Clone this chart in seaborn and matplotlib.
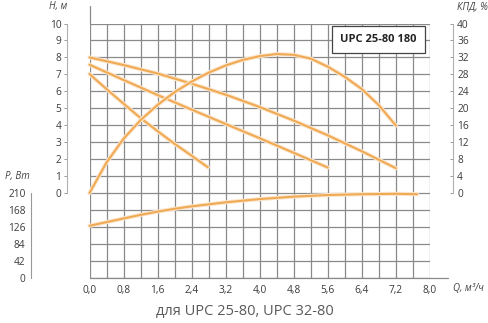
import numpy as np
import pandas as pd
import matplotlib
matplotlib.use("Agg")
import matplotlib.pyplot as plt
import matplotlib.patheffects as pe
import seaborn as sns

# ---------------- data ----------------
q_h1 = [0.0, 0.8, 1.6, 2.4, 3.2, 4.0, 4.8, 5.6, 6.4, 7.2]
h1 = [8.0, 7.55, 7.05, 6.45, 5.8, 5.07, 4.27, 3.4, 2.46, 1.46]

q_h2 = [0.0, 0.8, 1.6, 2.4, 3.2, 4.0, 4.8, 5.6]
h2 = [7.57, 6.67, 5.78, 4.92, 4.07, 3.23, 2.37, 1.5]

q_h3 = [0.0, 0.4, 0.8, 1.2, 1.6, 2.0, 2.4, 2.78]
h3 = [7.02, 6.13, 5.27, 4.42, 3.65, 2.9, 2.2, 1.52]

q_eff = [0.0, 0.4, 0.8, 1.2, 1.6, 2.0, 2.4, 2.8, 3.2, 3.6, 4.0, 4.4, 4.8,
         5.2, 5.6, 6.0, 6.4, 6.8, 7.2]
eff = [0.0, 7.2, 12.8, 17.2, 20.8, 23.8, 26.3, 28.4, 30.1, 31.4, 32.3, 32.8,
       32.6, 31.7, 29.8, 27.4, 24.5, 20.7, 15.9]

q_p = [0.0, 0.4, 0.8, 1.2, 1.6, 2.0, 2.4, 2.8, 3.2, 3.6, 4.0, 4.8, 5.6, 6.4,
       7.2, 7.7]
power = [129, 138, 147, 156, 164, 171, 177, 182, 187, 191, 195, 201, 205, 207,
         208, 207]

h_ticks = [0, 1, 2, 3, 4, 5, 6, 7, 8, 9, 10]
p_ticks = [0, 42, 84, 126, 168, 210]
eff_ticks = [0, 4, 8, 12, 16, 20, 24, 28, 32, 36, 40]
q_ticks = [0.0, 0.8, 1.6, 2.4, 3.2, 4.0, 4.8, 5.6, 6.4, 7.2, 8.0]
q_labels = ["0,0", "0,8", "1,6", "2,4", "3,2", "4,0", "4,8", "5,6", "6,4",
            "7,2", "8,0"]

title_text = "UPC 25-80 180"
caption = "для UPC 25-80, UPC 32-80"

# ---------------- style ----------------
sns.set_style("white")
plt.rcParams["font.family"] = ["Open Sans", "DejaVu Sans"]

W, H = 488, 323
fig = plt.figure(figsize=(W / 100, H / 100), dpi=100)
fig.patch.set_facecolor("white")


def rect(x0, y0, x1, y1):
    return [x0 / W, 1 - y1 / H, (x1 - x0) / W, (y1 - y0) / H]


GX0, GX1, GY0, GY1, GY2 = 89.5, 430, 23.5, 193, 278
ax_top = fig.add_axes(rect(GX0, GY0, GX1, GY1))
ax_bot = fig.add_axes(rect(GX0, GY1, GX1, GY2))
ax_eff = ax_top.twinx()

grid_col = "#8a8a8a"
curve_col = "#F0AA55"
glow = [pe.Stroke(linewidth=3.0, foreground="#FBE6CC"), pe.Normal()]
tick_col = "#3a3a3a"
fs = 7.3

minor_q = np.arange(0, 8.001, 0.4)

for ax in (ax_top, ax_bot):
    ax.set_facecolor("none")
    ax.set_xlim(0, 8)
    ax.set_xticks(minor_q)
    ax.grid(True, color=grid_col, linewidth=0.9)
    for s in ("top", "right", "bottom"):
        ax.spines[s].set_visible(False)
    ax.spines["left"].set_color("#b0b0b0")
    ax.spines["left"].set_linewidth(0.8)
    ax.tick_params(axis="y", direction="out", length=2.5, width=0.7,
                   color="#999999", labelsize=fs, labelcolor=tick_col, pad=1.5)

# top: head
ax_top.set_ylim(0, 10)
ax_top.set_yticks(h_ticks)
ax_top.set_yticklabels([str(v) for v in h_ticks])
ax_top.spines["left"].set_position(("outward", 22.5 * 0.72))
ax_top.tick_params(axis="x", length=0, labelbottom=False)

# bottom: power
ax_bot.set_ylim(0, 210)
ax_bot.set_yticks(p_ticks)
ax_bot.set_yticklabels([str(v) for v in p_ticks])
ax_bot.spines["left"].set_position(("outward", 58.5 * 0.72))
ax_bot.spines["left"].set_color("#999999")
ax_bot.set_xticklabels([q_labels[q_ticks.index(round(v, 1))]
                        if round(v, 1) in q_ticks else "" for v in minor_q])
ax_bot.tick_params(axis="x", length=0, labelsize=fs, labelcolor=tick_col,
                   pad=5)

# right: efficiency
ax_eff.set_ylim(0, 40)
ax_eff.set_yticks(eff_ticks)
ax_eff.set_yticklabels([str(v) for v in eff_ticks])
for s in ("top", "left", "bottom"):
    ax_eff.spines[s].set_visible(False)
ax_eff.spines["right"].set_position(("outward", 23 * 0.72))
ax_eff.spines["right"].set_color("#b0b0b0")
ax_eff.spines["right"].set_linewidth(0.8)
ax_eff.tick_params(axis="y", direction="in", length=2.5, width=0.7,
                   color="#999999", labelsize=fs, labelcolor=tick_col, pad=3)
ax_eff.grid(False)

# extensions of frame lines
ax_top.axvline(0, ymin=1, ymax=1 + 18 / (GY1 - GY0), color=grid_col,
               linewidth=0.9, clip_on=False)
ax_bot.axhline(0, xmin=0, xmax=1 + 18 / (GX1 - GX0), color=grid_col,
               linewidth=0.9, clip_on=False)

# ---------------- curves ----------------
lw = 1.5
for qx, hy in ((q_h1, h1), (q_h2, h2), (q_h3, h3)):
    df = pd.DataFrame({"Q": qx, "H": hy})
    sns.lineplot(data=df, x="Q", y="H", ax=ax_top, color=curve_col,
                 linewidth=lw, path_effects=glow, clip_on=False)

df_e = pd.DataFrame({"Q": q_eff, "E": eff})
sns.lineplot(data=df_e, x="Q", y="E", ax=ax_eff, color=curve_col,
             linewidth=lw, path_effects=glow, clip_on=False)

df_p = pd.DataFrame({"Q": q_p, "P": power})
sns.lineplot(data=df_p, x="Q", y="P", ax=ax_bot, color=curve_col,
             linewidth=lw, path_effects=glow, clip_on=False)

for ax in (ax_top, ax_bot, ax_eff):
    ax.set_xlabel("")
    ax.set_ylabel("")

# ---------------- texts ----------------
fig.text(378.5 / W, 1 - 39.5 / H, title_text, ha="center", va="center",
         fontsize=8, fontweight="bold", color="#222222",
         bbox=dict(boxstyle="square,pad=0.7", facecolor="white",
                   edgecolor="#444444", linewidth=0.9))

lab_col = "#444444"
fig.text(58 / W, 1 - 7 / H, "H, м", ha="center", va="center",
         fontsize=7, style="italic", color=lab_col)
fig.text(472 / W, 1 - 7.5 / H, "КПД, %", ha="center", va="center",
         fontsize=7, style="italic", color=lab_col)
fig.text(17.5 / W, 1 - 176.5 / H, "P, Вт", ha="center", va="center",
         fontsize=7, style="italic", color=lab_col)
fig.text(468 / W, 1 - 288.5 / H, "Q, м³/ч", ha="center", va="center",
         fontsize=7, style="italic", color=lab_col)

fig.text(245 / W, 1 - 311 / H, caption, ha="center", va="center",
         fontsize=10.5, color="#5a5a5a")

fig.savefig("out.png", dpi=100, facecolor="white")
